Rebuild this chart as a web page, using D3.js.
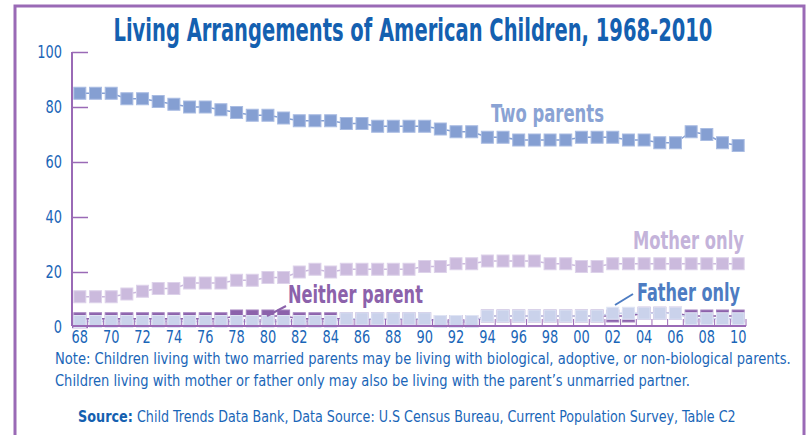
<!DOCTYPE html>
<html><head><meta charset="utf-8">
<script src="https://cdn.jsdelivr.net/npm/d3@7"></script>
<style>
html,body{margin:0;padding:0;background:#fff;}
svg{display:block;}
text{font-family:"Liberation Sans Narrow","DejaVu Sans Condensed","Roboto Condensed","Liberation Sans",sans-serif;}
</style></head>
<body>
<svg id="chart" width="810" height="435"></svg>
<script>
// ---- data ----
const years = d3.range(1968, 2011);
const twoParents = [85,85,85,83,83,82,81,80,80,79,78,77,77,76,75,75,75,74,74,73,73,73,73,72,71,71,69,69,68,68,68,68,69,69,69,68,68,67,67,71,70,67,66];
const motherOnly = [11,11,11,12,13,14,14,16,16,16,17,17,18,18,20,21,20,21,21,21,21,21,22,22,23,23,24,24,24,24,23,23,22,22,23,23,23,23,23,23,23,23,23];
const fatherOnly = [2,2,2,2,2,2,2,2,2,2,2,2,2,2,2,2,2,3,3,3,3,3,3,2,2,2,4,4,4,4,4,4,4,4,5,5,5,5,5,3,3,3,3];
const neitherParent = [3,3,3,3,3,3,3,3,3,3,4,4,4,4,3,3,3,3,3,3,3,3,3,2,2,2,4,4,4,4,4,4,4,4,4,4,5,5,5,4,4,4,4];
const yTicks = [0,20,40,60,80,100];
const xLabelYears = d3.range(1968, 2011, 2);

const title = "Living Arrangements of American Children, 1968-2010";
const note1 = "Note: Children living with two married parents may be living with biological, adoptive, or non-biological parents.";
const note2 = "Children living with mother or father only may also be living with the parent\u2019s unmarried partner.";
const sourceBold = "Source:";
const sourceRest = "Child Trends Data Bank, Data Source: U.S Census Bureau, Current Population Survey, Table C2";

// ---- styles ----
const purple = "#9a6ab6";
const blueText = "#1a66b8";
const cTwo = "#859fd2", cMother = "#cbbadd", cNeither = "#8c62ab", cFather = "#cad2eb";

const svg = d3.select("#chart");

// fitted text: drawn at natural size, then squeezed horizontally to a target width
function fitText(t, xx, yy, width, opts) {
  const g = svg.append("g");
  const tx = g.append("text").attr("x",0).attr("y",0)
    .attr("font-size",opts.size).attr("fill",opts.fill)
    .attr("font-weight",opts.bold ? "bold" : "normal").text(t);
  const natural = tx.node().getComputedTextLength();
  const s = width / natural;
  const left = opts.anchor === "middle" ? xx - width/2 : xx;
  g.attr("transform",`translate(${left},${yy}) scale(${s},1)`);
  return g;
}

// frame
svg.append("rect").attr("x",15).attr("y",6).attr("width",789).attr("height",470)
  .attr("fill","none").attr("stroke",purple).attr("stroke-width",3);

// title
fitText(title, 413, 41, 599, {size:32, bold:true, fill:"#1460b0", anchor:"middle"});

// scales
const x = d3.scaleBand().domain(years).range([72, 746]).padding(0);
const y = d3.scaleLinear().domain([0,100]).range([327, 52]);
const cx = d => x(d) + x.bandwidth()/2;
const squeeze = 0.8;

// y axis
const yAxis = svg.append("g").attr("transform","translate(72,0)")
  .call(d3.axisLeft(y).tickValues(yTicks).tickSize(-16).tickPadding(10/squeeze));
yAxis.select(".domain").remove();
yAxis.selectAll(".tick line").attr("stroke",purple).attr("stroke-width",1.5);
yAxis.selectAll(".tick text").attr("fill",blueText).attr("font-size",18)
  .attr("font-family",null).attr("transform",`scale(${squeeze},1)`);
svg.append("line").attr("x1",72).attr("x2",72).attr("y1",y(100)).attr("y2",326)
  .attr("stroke",purple).attr("stroke-width",2);

// x axis
const xAxis = svg.append("g").attr("transform","translate(0,326)")
  .call(d3.axisBottom(x).tickValues(xLabelYears).tickSize(0).tickPadding(4)
    .tickFormat(d => String(d % 100).padStart(2,"0")));
xAxis.select(".domain").remove();
xAxis.selectAll(".tick text").attr("fill",blueText).attr("font-size",18)
  .attr("font-family",null).attr("transform",`scale(${squeeze},1)`);

// series
const series = [
  {vals: twoParents, color: cTwo, stroke: "#a9bce2"},
  {vals: motherOnly, color: cMother, stroke: "#ddd2ea"},
  {vals: neitherParent, color: cNeither, stroke: "#a583c0"},
  {vals: fatherOnly, color: cFather, stroke: "#dfe4f4"}
];
const line = d3.line().x((d,i) => cx(years[i])).y(d => y(d));
const sq = 12;
series.forEach(s => {
  const g = svg.append("g");
  g.append("path").attr("d", line(s.vals)).attr("fill","none")
    .attr("stroke", s.color).attr("stroke-width",1.5);
  g.selectAll("rect").data(s.vals).enter().append("rect")
    .attr("x",(d,i) => cx(years[i]) - sq/2).attr("y", d => y(d) - sq/2)
    .attr("width",sq).attr("height",sq)
    .attr("fill", s.color).attr("stroke", s.stroke).attr("stroke-width",1);
});

// x axis baseline and boundary ticks (drawn on top)
svg.append("line").attr("x1",72).attr("x2",746).attr("y1",326).attr("y2",326)
  .attr("stroke",purple).attr("stroke-width",2);
const bounds = years.map(d => x(d)).concat([x(years[years.length-1]) + x.bandwidth()]);
svg.append("g").selectAll("line").data(bounds).enter().append("line")
  .attr("x1",d=>d).attr("x2",d=>d).attr("y1",326).attr("y2",319)
  .attr("stroke",purple).attr("stroke-width",1);

// series labels
fitText("Two parents", 491, 122, 113, {size:25, bold:true, fill:"#8aa3d4"});
fitText("Mother only", 633, 249, 111, {size:25, bold:true, fill:"#c4b3da"});
fitText("Father only", 637, 301, 103, {size:25, bold:true, fill:"#4d7cc2"});
fitText("Neither parent", 288, 303, 135, {size:25, bold:true, fill:"#8c62ab"});
// leader lines
svg.append("line").attr("x1",267).attr("y1",316).attr("x2",286).attr("y2",306)
  .attr("stroke","#8c62ab").attr("stroke-width",2);
svg.append("line").attr("x1",615).attr("y1",305).attr("x2",633).attr("y2",294)
  .attr("stroke","#4d7cc2").attr("stroke-width",2);

// notes
fitText(note1, 55, 364, 736, {size:16, fill:blueText});
fitText(note2, 55, 386, 635, {size:16, fill:blueText});
fitText(sourceBold, 78, 422, 55, {size:16, bold:true, fill:"#1460b0"});
fitText(sourceRest, 137, 422, 599, {size:16, fill:blueText});
</script>
</body></html>
